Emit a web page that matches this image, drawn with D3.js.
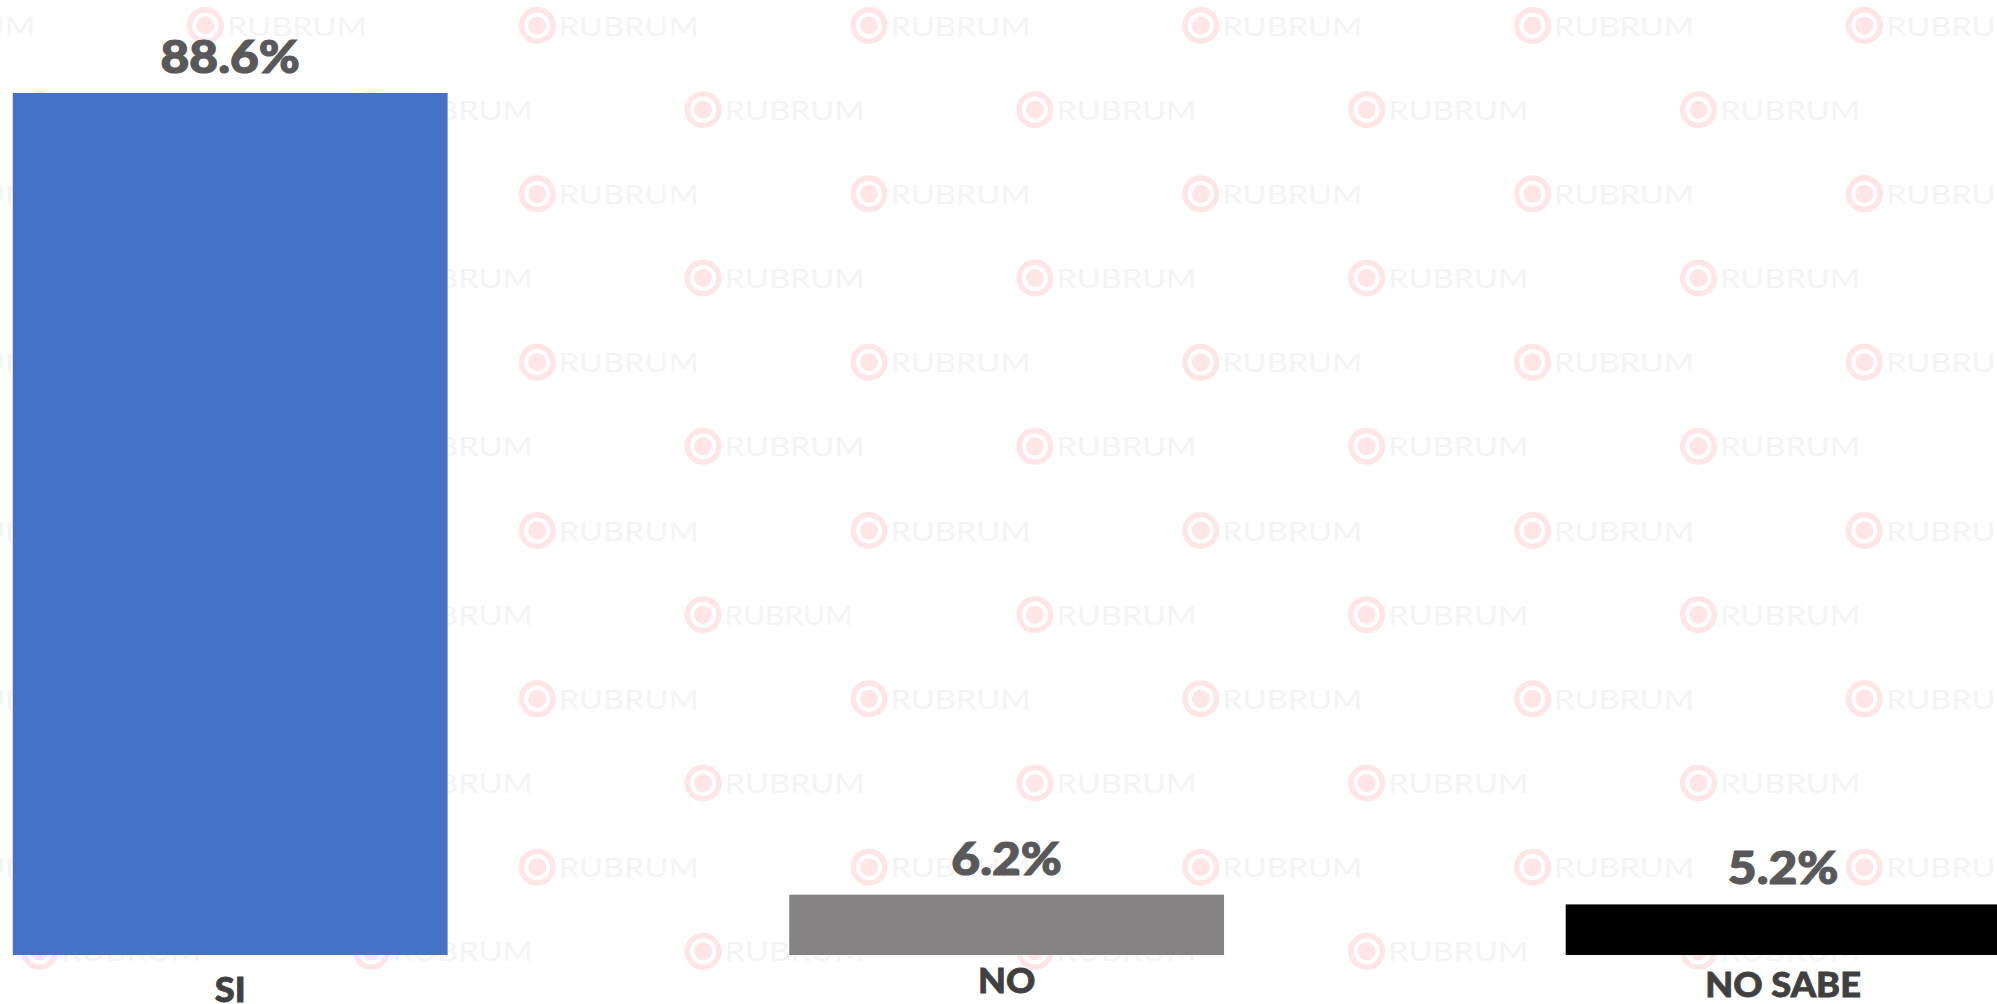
<!DOCTYPE html>
<html>
<head>
<meta charset="utf-8">
<script src="https://cdn.jsdelivr.net/npm/d3@7"></script>
<style>
  html, body { margin: 0; padding: 0; background: #fff; overflow: hidden; }
  svg { display: block; }
  text { font-family: Lato, sans-serif; }
</style>
</head>
<body>
<svg class="barchart-svg"></svg>
<script>
const categories = ["SI", "NO", "NO SABE"];
const values = [88.6, 6.2, 5.2];
const valueLabels = ["88.6%", "6.2%", "5.2%"];
const barColors = ["#4472C4", "#848283", "#000000"];

const width = 1997;
const height = 1004;
const baseline = 955;
const top88 = 93;
// the category labels do not sit on one line in the original
const labelY = { SI: 1002, NO: 993, "NO SABE": 997 };

const svg = d3.select(".barchart-svg").attr("width", width).attr("height", height);

// Lato is a bit narrow next to the original typeface, so stretch it
function widen(selection, factor) {
  selection.each(function () {
    const w = this.getComputedTextLength();
    d3.select(this).attr("textLength", w * factor).attr("lengthAdjust", "spacingAndGlyphs");
  });
}

// background watermark, staggered every other row
const wmRows = d3.range(12);
const wmCols = d3.range(-1, 7);
const wm = svg.append("g").attr("class", "watermark");
wmRows.forEach((r) => {
  wmCols.forEach((c) => {
    const cx = 205.4 + c * 331.8 + (r % 2 ? 165.9 : 0);
    const cy = 25.5 + r * 84.17;
    const g = wm.append("g").attr("transform", `translate(${cx},${cy})`);
    g.append("circle").attr("r", 15.8).attr("fill", "none").attr("stroke", "#ffe5e5").attr("stroke-width", 5.4);
    g.append("circle").attr("r", 9).attr("fill", "#ffe5e5");
    g.append("text")
      .attr("x", 21.5)
      .attr("y", 10)
      .attr("font-family", "Inter, sans-serif")
      .attr("font-size", 27.5)
      .attr("font-weight", 400)
      .attr("fill", "#f4f4f4")
      .attr("textLength", r === 7 && c === 1 ? 128 : 140)
      .attr("lengthAdjust", "spacingAndGlyphs")
      .text("RUBRUM");
  });
});

const xScale = d3.scaleBand()
  .domain(categories)
  .range([12.8, 2000.5])
  .paddingInner(0.44)
  .paddingOuter(0);
const yScale = d3.scaleLinear().domain([0, d3.max(values)]).range([baseline, top88]);
const color = d3.scaleOrdinal().domain(categories).range(barColors);

const data = categories.map((name, i) => ({ name, value: values[i], label: valueLabels[i] }));

svg.selectAll(".bar")
  .data(data)
  .join("rect")
  .attr("class", "bar")
  .attr("x", (d) => xScale(d.name))
  .attr("y", (d) => yScale(d.value))
  .attr("width", xScale.bandwidth())
  .attr("height", (d) => baseline - yScale(d.value))
  .attr("fill", (d) => color(d.name));

svg.selectAll(".value-label")
  .data(data)
  .join("text")
  .attr("class", "value-label")
  .attr("x", (d) => xScale(d.name) + xScale.bandwidth() / 2)
  .attr("y", (d) => yScale(d.value) - 20)
  .attr("text-anchor", "middle")
  .attr("font-size", 46)
  .attr("font-weight", 900)
  .attr("fill", "#595959")
  .attr("stroke", "#595959")
  .attr("stroke-width", 1.2)
  .text((d) => d.label)
  .call(widen, 1.08);

const xAxis = svg.append("g")
  .attr("class", "x-axis")
  .attr("transform", `translate(0,${baseline})`)
  .call(d3.axisBottom(xScale).tickSize(0));
xAxis.select(".domain").remove();
xAxis.selectAll("text")
  .attr("dy", null)
  .attr("y", (d) => labelY[d] - baseline)
  .attr("font-family", "Lato, sans-serif")
  .attr("font-size", 35)
  .attr("font-weight", 900)
  .attr("fill", "#404040")
  .attr("stroke", "#404040")
  .attr("stroke-width", 0.8)
  .call(widen, 1.035);
</script>
</body>
</html>
